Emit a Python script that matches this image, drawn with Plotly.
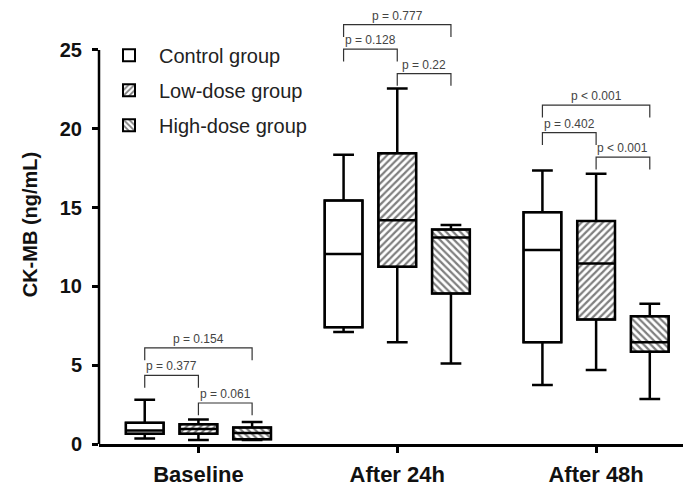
import plotly.graph_objects as go

# ---- data ----
categories = ["Baseline", "After 24h", "After 48h"]
groups = ["Control group", "Low-dose group", "High-dose group"]

# per group: values for [Baseline, After 24h, After 48h]
ctrl_low = [0.35, 7.1, 3.75]
ctrl_q1 = [0.65, 7.4, 6.45]
ctrl_med = [0.85, 12.05, 12.3]
ctrl_q3 = [1.35, 15.45, 14.7]
ctrl_high = [2.8, 18.35, 17.35]

low_low = [0.25, 6.45, 4.7]
low_q1 = [0.65, 11.25, 7.9]
low_med = [0.95, 14.2, 11.45]
low_q3 = [1.25, 18.45, 14.15]
low_high = [1.55, 22.55, 17.15]

high_low = [0.25, 5.1, 2.85]
high_q1 = [0.3, 9.55, 5.85]
high_med = [0.7, 13.1, 6.45]
high_q3 = [1.05, 13.6, 8.1]
high_high = [1.4, 13.9, 8.9]

# comparisons: (category index, group a, group b, bracket height, label)
cmp_cat = [0, 0, 0, 1, 1, 1, 2, 2, 2]
cmp_a = [0, 0, 1, 0, 0, 1, 0, 0, 1]
cmp_b = [2, 1, 2, 2, 1, 2, 2, 1, 2]
cmp_y = [6.1, 4.35, 2.6, 26.6, 25.05, 23.5, 21.5, 19.75, 18.2]
cmp_label = ["p = 0.154", "p = 0.377", "p = 0.061",
             "p = 0.777", "p = 0.128", "p = 0.22",
             "p < 0.001", "p = 0.402", "p < 0.001"]

y_ticks = [0, 5, 10, 15, 20, 25]

# ---- styling ----
FONT = "Liberation Sans, Arial, sans-serif"
offsets = [-0.27, 0.0, 0.27]
box_w = 0.19
patterns = ["", "/", "\\"]
stats = [
    (ctrl_low, ctrl_q1, ctrl_med, ctrl_q3, ctrl_high),
    (low_low, low_q1, low_med, low_q3, low_high),
    (high_low, high_q1, high_med, high_q3, high_high),
]

fig = go.Figure()

for gi, (lo, q1, med, q3, hi) in enumerate(stats):
    xs = [ci + offsets[gi] for ci in range(len(categories))]
    fig.add_trace(go.Bar(
        x=xs, base=q1, y=[b - a for a, b in zip(q1, q3)],
        width=[box_w] * len(xs),
        name=groups[gi],
        legendgroup=groups[gi],
        marker=dict(color="white",
                    line=dict(color="black", width=2),
                    pattern=dict(shape=patterns[gi], fgcolor="#000000",
                                 bgcolor="white", size=5, solidity=0.45)),
        hoverinfo="skip",
    ))
    fig.add_trace(go.Box(
        x=xs, q1=q1, median=med, q3=q3, lowerfence=lo, upperfence=hi,
        width=box_w, whiskerwidth=0.55,
        fillcolor="rgba(0,0,0,0)",
        line=dict(color="black", width=2.5),
        boxpoints=False, showlegend=False, hoverinfo="skip",
        legendgroup=groups[gi],
    ))

shapes = []
annotations = []
drop = 0.78
for c, a, b, yv, lab in zip(cmp_cat, cmp_a, cmp_b, cmp_y, cmp_label):
    x0 = c + offsets[a]
    x1 = c + offsets[b]
    shapes.append(dict(
        type="path", xref="x", yref="y",
        path=f"M {x0},{yv - drop} L {x0},{yv} L {x1},{yv} L {x1},{yv - drop}",
        line=dict(color="#333333", width=1.2),
    ))
    annotations.append(dict(
        x=(x0 + x1) / 2, y=yv, xref="x", yref="y", text=lab,
        showarrow=False, yanchor="bottom", yshift=0,
        font=dict(family=FONT, size=12, color="#444444"),
    ))

# y axis line only from 0 to 25
shapes.append(dict(type="line", xref="paper", yref="y", x0=0, x1=0,
                   y0=0, y1=max(y_ticks), line=dict(color="black", width=2.5)))

fig.update_layout(
    width=683, height=487,
    margin=dict(l=99, r=0, t=5, b=40),
    paper_bgcolor="white", plot_bgcolor="white",
    barmode="overlay", boxmode="overlay",
    font=dict(family=FONT, color="black"),
    shapes=shapes, annotations=annotations,
    showlegend=True,
    legend=dict(x=0.0, y=0.93, xanchor="left", yanchor="top",
                bgcolor="rgba(0,0,0,0)", tracegroupgap=6, itemwidth=50,
                font=dict(family=FONT, size=20, color="#222222")),
    xaxis=dict(range=[-0.5, 2.437], tickvals=[0, 1, 2], ticktext=categories,
               showline=True, linecolor="black", linewidth=2.5,
               ticks="outside", ticklen=6, tickwidth=2.5, tickcolor="black",
               showgrid=False, zeroline=False, ticklabelstandoff=3,
               tickfont=dict(family=FONT, size=22, color="#111111", weight="bold")),
    yaxis=dict(range=[0, 27.85], tickvals=y_ticks,
               showline=False, ticks="outside", ticklen=6, tickwidth=2.5,
               tickcolor="black", showgrid=False, zeroline=False,
               ticklabelstandoff=6,
               tickfont=dict(family=FONT, size=20, color="#111111", weight="bold"),
               title=dict(text="CK-MB (ng/mL)", standoff=16,
                          font=dict(family=FONT, size=20, color="#111111",
                                    weight="bold"))),
)

fig.write_html("out.html")
